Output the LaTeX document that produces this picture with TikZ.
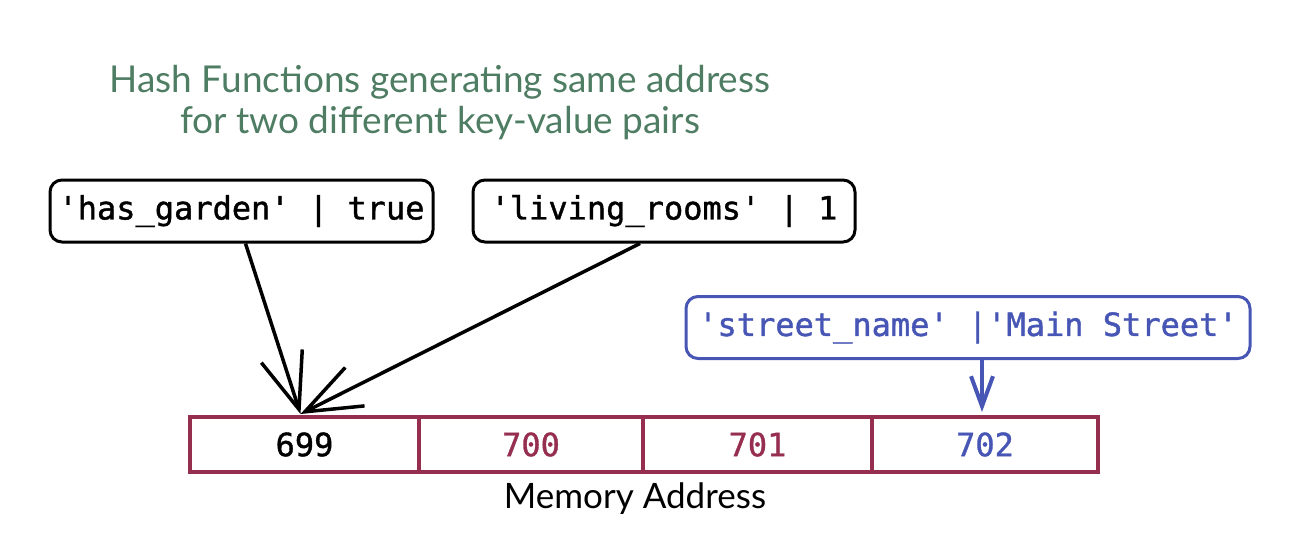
\documentclass[tikz,border=0pt]{standalone}
\usepackage{fontspec}
\newfontfamily\kvfont{DejaVu Sans Mono}[FakeBold=1.2]
\newfontfamily\handfont{Lato}
\usetikzlibrary{arrows.meta}
\definecolor{titlegreen}{HTML}{4E7D63}
\definecolor{cellred}{HTML}{962E50}
\definecolor{kvblue}{HTML}{4756B5}
\tikzset{
  kvbox/.style={draw, line width=3pt, rounded corners=12pt, inner sep=0pt,
    minimum height=62pt, font=\kvfont\fontsize{32}{33}\selectfont},
  cellbox/.style={draw=cellred, line width=4pt, inner sep=0pt,
    minimum height=55pt, font=\kvfont\fontsize{32}{32}\selectfont},
  bigarrow/.style={line width=3.5pt, -{Straight Barb[length=56pt,width=43pt]}},
  smallarrow/.style={line width=4pt, -{Straight Barb[length=30pt,width=22pt]}},
  handtext/.style={font=\handfont\fontsize{37}{41}\selectfont, align=center}
}
\begin{document}
\begin{tikzpicture}[x=1pt,y=-1pt]
\useasboundingbox (0,0) rectangle (1290,552);
% title
\node[handtext, text=titlegreen] (title) at (440,103)
  {Hash Functions generating same address\\for two different key-value pairs};
% key-value boxes
\node[kvbox, minimum width=383pt] (b1) at (241.5,211) {'has\_garden' | true};
\node[kvbox, minimum width=382pt] (b2) at (664,211) {'living\_rooms' | 1};
\node[kvbox, draw=kvblue, text=kvblue, minimum width=564pt] (b3) at (968,327.5) {'street\_name' |'Main Street'};
% memory cells
\node[cellbox, minimum width=229pt] (c1) at (304.5,444.5) {699};
\node[cellbox, minimum width=224pt, text=cellred] (c2) at (531,444.5) {700};
\node[cellbox, minimum width=229pt, text=cellred] (c3) at (757.5,444.5) {701};
\node[cellbox, minimum width=226pt, text=kvblue] (c4) at (985,444.5) {702};
\node[handtext, font=\handfont\fontsize{35}{40}\selectfont] (mem) at (635,499) {Memory Address};
% connectors
\coordinate (tip) at ([xshift=-4pt,yshift=1pt]c1.north);
\coordinate (tipb) at ([xshift=-3pt,yshift=3pt]c4.north);
\draw[bigarrow] ([xshift=4pt]b1.south) -- (tip);
\draw[bigarrow] ([xshift=-24pt]b2.south) -- (tip);
\draw[smallarrow, draw=kvblue] ([xshift=14pt]b3.south) -- (tipb);
\end{tikzpicture}
\end{document}
